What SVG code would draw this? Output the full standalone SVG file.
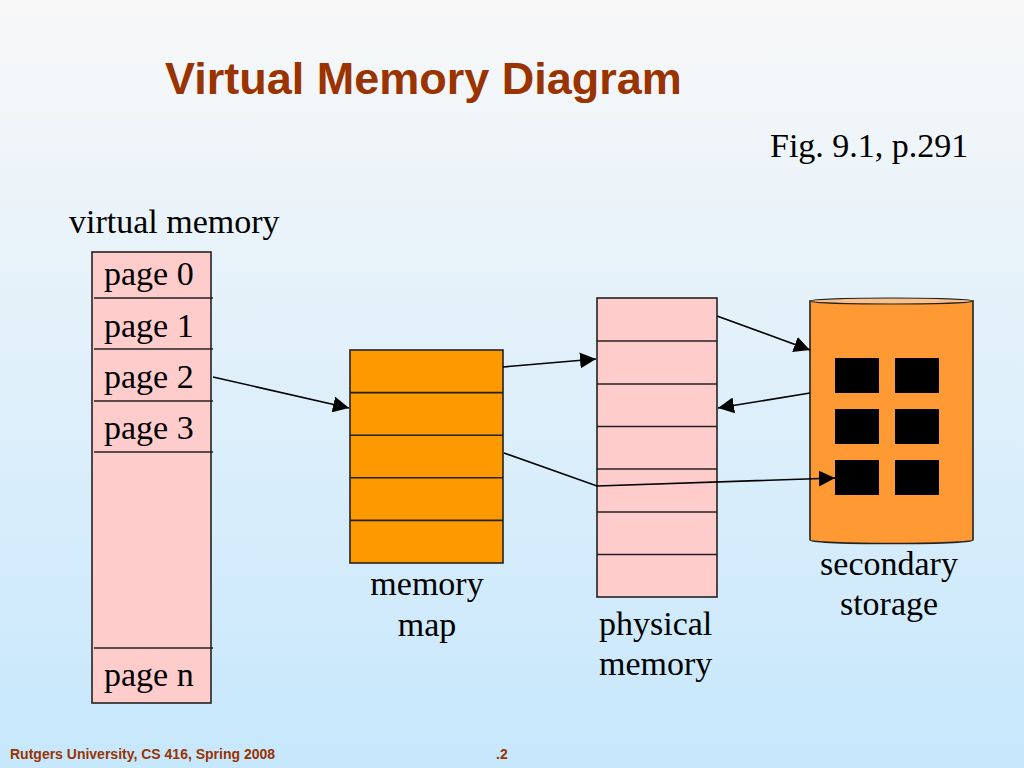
<svg xmlns="http://www.w3.org/2000/svg" width="1024" height="768" viewBox="0 0 1024 768">
<defs>
<linearGradient id="bg" x1="0" y1="0" x2="0" y2="1">
<stop offset="0" stop-color="#f8f8f8"/>
<stop offset="1" stop-color="#c6e7fc"/>
</linearGradient>
<marker id="ah" markerUnits="userSpaceOnUse" markerWidth="18" markerHeight="16" refX="16" refY="8" orient="auto">
<path d="M0,0 L16,8 L0,16 Z" fill="#000"/>
</marker>
<style>
.serif{font-family:"Liberation Serif","Times New Roman",serif;font-size:34px;fill:#000}
.pink{fill:#ffcccc;stroke:#222;stroke-width:1.6}
.orange{fill:#ff9900;stroke:#222;stroke-width:1.6}
.div{stroke:#222;stroke-width:1.6}
.conn{stroke:#000;stroke-width:1.6;fill:none}
.sq{fill:#000}
.foot{font-family:"Liberation Sans",Arial,sans-serif;font-weight:bold;font-size:14px;fill:#993300}
</style>
</defs>
<rect width="1024" height="768" fill="url(#bg)"/>
<text x="165" y="94" font-family="Liberation Sans, Arial, sans-serif" font-weight="bold" font-size="45" fill="#993300">Virtual Memory Diagram</text>
<text class="serif" x="770" y="157">Fig. 9.1, p.291</text>

<g id="virtual-memory">
<text class="serif" x="69" y="233">virtual memory</text>
<rect class="pink" x="92" y="252" width="119" height="451"/>
<line class="div" x1="94" y1="298" x2="213" y2="298"/>
<line class="div" x1="94" y1="349" x2="213" y2="349"/>
<line class="div" x1="94" y1="401" x2="213" y2="401"/>
<line class="div" x1="94" y1="452" x2="213" y2="452"/>
<line class="div" x1="94" y1="648" x2="213" y2="648"/>
<text class="serif" x="104" y="285">page 0</text>
<text class="serif" x="104" y="337">page 1</text>
<text class="serif" x="104" y="388">page 2</text>
<text class="serif" x="104" y="439">page 3</text>
<text class="serif" x="104" y="686">page n</text>
</g>

<g id="memory-map">
<rect class="orange" x="350" y="350" width="153" height="213"/>
<line class="div" x1="350" y1="392.6" x2="503" y2="392.6"/>
<line class="div" x1="350" y1="435.2" x2="503" y2="435.2"/>
<line class="div" x1="350" y1="477.8" x2="503" y2="477.8"/>
<line class="div" x1="350" y1="520.4" x2="503" y2="520.4"/>
<text class="serif" x="427" y="595" text-anchor="middle">memory</text>
<text class="serif" x="427" y="636" text-anchor="middle">map</text>
</g>

<g id="physical-memory">
<rect class="pink" x="597" y="298" width="120" height="299"/>
<line class="div" x1="597" y1="341" x2="717" y2="341"/>
<line class="div" x1="597" y1="384" x2="717" y2="384"/>
<line class="div" x1="597" y1="426.5" x2="717" y2="426.5"/>
<line class="div" x1="597" y1="469" x2="717" y2="469"/>
<line class="div" x1="597" y1="512" x2="717" y2="512"/>
<line class="div" x1="597" y1="554.5" x2="717" y2="554.5"/>
<text class="serif" x="599" y="635">physical</text>
<text class="serif" x="599" y="675">memory</text>
</g>

<g id="secondary-storage">
<path d="M810,301 L810,540 A81.5,3.5 0 0 0 973,540 L973,301 Z" fill="#ff9933" stroke="#222" stroke-width="1.6"/>
<ellipse cx="891.5" cy="301" rx="81.5" ry="3" fill="#f8c08a" stroke="#222" stroke-width="1.2"/>
<rect class="sq" x="835" y="358" width="44" height="35"/>
<rect class="sq" x="895" y="358" width="44" height="35"/>
<rect class="sq" x="835" y="409" width="44" height="35"/>
<rect class="sq" x="895" y="409" width="44" height="35"/>
<rect class="sq" x="835" y="460" width="44" height="35"/>
<rect class="sq" x="895" y="460" width="44" height="35"/>
<text class="serif" x="889" y="575" text-anchor="middle">secondary</text>
<text class="serif" x="889" y="615" text-anchor="middle">storage</text>
</g>

<g id="connectors">
<line class="conn" x1="213" y1="377" x2="349" y2="408" marker-end="url(#ah)"/>
<line class="conn" x1="503" y1="367" x2="596" y2="359" marker-end="url(#ah)"/>
<line class="conn" x1="717" y1="316" x2="810" y2="350" marker-end="url(#ah)"/>
<line class="conn" x1="810" y1="393" x2="718" y2="408" marker-end="url(#ah)"/>
<polyline class="conn" points="504,453 597,486 835,478" marker-end="url(#ah)"/>
</g>

<text class="foot" x="10" y="759">Rutgers University, CS 416, Spring 2008</text>
<text class="foot" x="496" y="759">.2</text>
</svg>
